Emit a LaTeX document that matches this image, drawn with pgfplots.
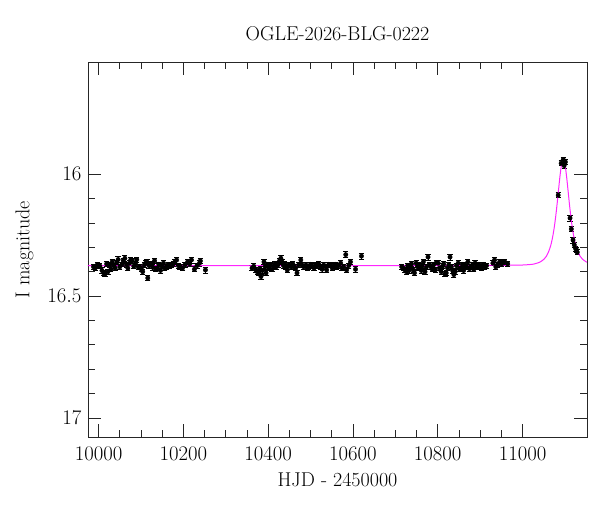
\documentclass[border=0pt]{standalone}
\usepackage{pgfplots}
\pgfplotsset{compat=1.18}
\usepackage{pgfplotstable}

\pgfplotstableread{
t m e
9988 16.380 0.010
9992 16.385 0.010
9997 16.372 0.010
10003 16.377 0.010
10008 16.395 0.012
10012 16.405 0.010
10015 16.410 0.010
10019 16.368 0.010
10022 16.400 0.010
10026 16.372 0.012
10029 16.390 0.010
10032 16.360 0.010
10036 16.375 0.010
10039 16.385 0.010
10043 16.362 0.010
10046 16.350 0.012
10050 16.380 0.010
10055 16.370 0.010
10058 16.355 0.010
10062 16.345 0.012
10066 16.372 0.010
10069 16.385 0.010
10073 16.365 0.010
10076 16.350 0.010
10079 16.355 0.010
10083 16.378 0.010
10087 16.368 0.010
10090 16.350 0.010
10094 16.382 0.010
10097 16.380 0.010
10101 16.390 0.010
10104 16.400 0.010
10108 16.372 0.010
10111 16.365 0.010
10114 16.360 0.010
10116 16.426 0.010
10119 16.375 0.010
10122 16.368 0.010
10125 16.370 0.010
10128 16.382 0.012
10132 16.355 0.010
10135 16.390 0.010
10139 16.385 0.010
10142 16.370 0.010
10146 16.395 0.010
10149 16.377 0.010
10153 16.365 0.012
10156 16.385 0.010
10160 16.380 0.010
10164 16.370 0.010
10168 16.377 0.010
10172 16.373 0.010
10176 16.368 0.010
10180 16.360 0.010
10184 16.352 0.012
10188 16.375 0.010
10192 16.380 0.010
10198 16.385 0.010
10204 16.372 0.010
10210 16.360 0.010
10215 16.368 0.010
10219 16.352 0.012
10226 16.390 0.010
10232 16.375 0.010
10238 16.365 0.012
10240 16.356 0.010
10252 16.393 0.012
10362 16.385 0.010
10366 16.378 0.010
10371 16.393 0.010
10374 16.400 0.010
10378 16.405 0.010
10381 16.388 0.010
10383 16.420 0.010
10386 16.395 0.010
10390 16.360 0.012
10393 16.380 0.010
10395 16.405 0.010
10398 16.372 0.010
10402 16.385 0.010
10405 16.370 0.010
10409 16.390 0.010
10413 16.378 0.010
10416 16.368 0.010
10419 16.380 0.010
10423 16.372 0.010
10427 16.355 0.010
10430 16.345 0.012
10433 16.360 0.010
10436 16.375 0.010
10439 16.368 0.010
10442 16.380 0.010
10445 16.393 0.010
10449 16.372 0.010
10454 16.380 0.010
10458 16.368 0.010
10461 16.380 0.010
10465 16.385 0.010
10468 16.405 0.012
10472 16.372 0.010
10477 16.352 0.012
10480 16.373 0.010
10484 16.380 0.010
10489 16.373 0.010
10492 16.385 0.010
10496 16.380 0.010
10500 16.370 0.010
10504 16.378 0.010
10508 16.385 0.010
10512 16.372 0.010
10515 16.377 0.010
10519 16.368 0.010
10524 16.380 0.010
10527 16.390 0.012
10531 16.373 0.010
10535 16.380 0.010
10538 16.393 0.010
10543 16.370 0.010
10547 16.373 0.010
10551 16.385 0.010
10555 16.377 0.010
10559 16.370 0.010
10562 16.380 0.010
10566 16.375 0.010
10571 16.365 0.010
10574 16.385 0.010
10578 16.380 0.010
10583 16.330 0.012
10585 16.393 0.010
10590 16.375 0.010
10594 16.360 0.010
10606 16.390 0.012
10620 16.336 0.012
10715 16.380 0.010
10719 16.385 0.010
10722 16.392 0.010
10726 16.400 0.010
10729 16.375 0.010
10732 16.395 0.010
10735 16.380 0.010
10738 16.368 0.010
10742 16.393 0.010
10745 16.405 0.010
10749 16.365 0.010
10752 16.380 0.010
10755 16.372 0.010
10758 16.385 0.010
10761 16.395 0.010
10763 16.377 0.010
10766 16.360 0.010
10770 16.400 0.010
10773 16.382 0.010
10777 16.340 0.012
10780 16.370 0.010
10784 16.380 0.010
10787 16.390 0.010
10790 16.372 0.010
10794 16.393 0.010
10797 16.362 0.010
10801 16.365 0.010
10804 16.385 0.010
10808 16.400 0.010
10811 16.378 0.010
10814 16.368 0.010
10817 16.410 0.010
10820 16.405 0.010
10823 16.385 0.010
10826 16.372 0.010
10829 16.340 0.012
10832 16.380 0.010
10835 16.395 0.010
10838 16.412 0.010
10841 16.400 0.010
10844 16.375 0.010
10848 16.365 0.010
10851 16.388 0.010
10855 16.385 0.010
10858 16.370 0.010
10861 16.395 0.010
10864 16.373 0.010
10868 16.380 0.010
10871 16.360 0.010
10875 16.388 0.010
10878 16.380 0.010
10882 16.372 0.010
10885 16.390 0.010
10888 16.365 0.010
10892 16.378 0.010
10895 16.382 0.010
10899 16.373 0.010
10903 16.385 0.010
10907 16.370 0.010
10911 16.380 0.010
10915 16.375 0.010
10930 16.365 0.010
10934 16.352 0.010
10937 16.380 0.010
10941 16.372 0.010
10946 16.360 0.010
10950 16.368 0.010
10953 16.365 0.010
10958 16.360 0.010
10965 16.368 0.010
11084 16.086 0.010
11091 15.955 0.010
11096 15.940 0.010
11098 15.965 0.010
11101 15.950 0.010
11112 16.180 0.012
11115 16.225 0.010
11119 16.270 0.012
11122 16.290 0.010
11125 16.305 0.010
11127 16.310 0.010
11129 16.320 0.010
}\obsdata

\pgfplotstableread{
t m
9975 16.375
10900 16.3748
10996 16.373
11016 16.371
11026 16.369
11036 16.364
11041 16.3605
11046 16.355
11051 16.348
11056 16.337
11061 16.320
11064 16.306
11066 16.295
11068 16.282
11070 16.266
11072 16.248
11074 16.227
11076 16.203
11078 16.176
11080 16.146
11082 16.114
11084 16.079
11086 16.045
11088 16.012
11090 15.983
11092 15.960
11094 15.945
11096 15.940
11098 15.945
11100 15.960
11102 15.983
11104 16.012
11106 16.045
11108 16.079
11110 16.114
11112 16.146
11114 16.176
11116 16.203
11118 16.227
11120 16.248
11122 16.266
11124 16.282
11126 16.295
11128 16.306
11131 16.320
11136 16.337
11141 16.348
11146 16.355
11151 16.3605
11152 16.361
}\modeldata

\begin{document}
\begin{tikzpicture}
\begin{axis}[
  name=ax,
  scale only axis,
  width=499pt, height=375pt,
  xmin=9975, xmax=11152,
  ymin=15.54, ymax=17.078,
  y dir=reverse,
  xtick={10000,10200,10400,10600,10800,11000},
  ytick={16,16.5,17},
  minor x tick num=3,
  minor y tick num=4,
  tick align=inside,
  major tick length=13pt,
  minor tick length=7pt,
  scaled x ticks=false,
  scaled y ticks=false,
  xticklabel style={/pgf/number format/.cd, fixed, set thousands separator={}, precision=0},
  yticklabel style={/pgf/number format/.cd, fixed, precision=1},
  tick label style={font=\fontsize{20}{24}\selectfont},
  label style={font=\fontsize{20}{24}\selectfont},
  title style={font=\fontsize{20}{24}\selectfont, at={(0.5,1)}, anchor=south, yshift=12pt},
  xticklabel shift=7pt,
  yticklabel shift=3pt,
  xlabel shift=5pt,
  ylabel shift=7pt,
  xlabel={HJD - 2450000},
  ylabel={I magnitude},
  title={OGLE-2026-BLG-0222},
  axis line style={line width=0.8pt, black!85},
  tick style={line width=0.8pt, black!85},
]
\addplot[only marks, mark=*, mark size=2.2pt, black,
  error bars/.cd, y dir=both, y explicit, error bar style={line width=0.8pt, black},
  error mark options={rotate=90, mark size=2.6pt, line width=0.8pt}]
  table[x=t, y=m, y error=e] {\obsdata};
\addplot[color={rgb,1:red,1;green,0;blue,1}, line width=1pt, opacity=0.85] table[x=t, y=m] {\modeldata};
\end{axis}
\pgfresetboundingbox
\path (ax.south west) ++(-88pt,-75pt) rectangle ++(600pt,512pt);
\end{tikzpicture}
\end{document}
